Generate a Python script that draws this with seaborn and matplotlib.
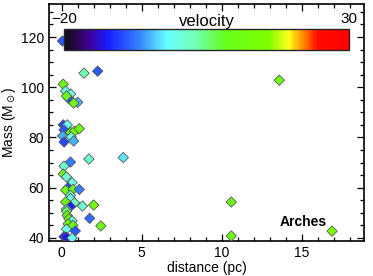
import matplotlib
matplotlib.use("Agg")
import matplotlib.pyplot as plt
import seaborn as sns
import numpy as np
import pandas as pd
from matplotlib.colors import LinearSegmentedColormap, Normalize
from matplotlib.cm import ScalarMappable
from matplotlib.ticker import MultipleLocator

# distance (pc), mass (Msun), velocity
distance = [0.05, 1.4, 2.25, 13.6, 0.1, 0.25, 0.56, 0.44, 1.0, 0.75, 0.3,
            0.1, 0.35, 0.15, 0.56, 0.8, 1.1, 0.06, 0.6, 0.15, 0.75,
            1.7, 3.85, 0.55, 0.15, 0.1, 0.3, 0.65, 0.4, 0.25, 0.7, 1.1,
            0.55, 0.55, 0.8, 0.25, 1.3, 2.0, 0.55, 0.3, 0.3, 0.35, 0.45,
            1.75, 0.65, 0.4, 2.45, 0.7, 0.3, 0.85, 0.15, 0.3, 0.65,
            10.6, 10.6, 16.9]
mass = [118.4, 105.6, 106.4, 102.8, 101.2, 98.5, 97.3, 95.5, 94.0, 93.7, 96.5,
        85.0, 85.0, 83.0, 82.0, 82.5, 83.5, 80.6, 80.2, 78.2, 78.6,
        71.4, 72.0, 70.2, 68.6, 65.4, 64.3, 62.0, 60.0, 59.0, 59.3, 59.3,
        57.0, 55.7, 54.0, 54.3, 52.7, 53.1, 52.5, 51.4, 50.6, 48.9, 47.6,
        47.8, 46.8, 45.6, 44.8, 45.0, 43.5, 42.8, 40.5, 40.3, 40.0,
        54.3, 40.8, 42.7]
velocity = [-9, 3, -9, 11, 10, 0, -1, -10, -5, 11, 9,
            -10, -1, -9, 10, 11, 10, -5, 1, -10, -5,
            1, -3, -7, 1, 10, 1, 0, -10, 10, 10, -7,
            2, 0, 2, 10, 1, 11, -12, 0, 6, 10, 10,
            -8, 0, 10, 11, 10, -1, -9, -11, -13, -1,
            10, 11, 15]

vmin, vmax = -20, 30

df = pd.DataFrame({"distance": distance, "mass": mass, "velocity": velocity})

cmap = LinearSegmentedColormap.from_list("idl_rainbow", [
    (0.00, (0.05, 0.05, 0.05)),
    (0.08, (0.25, 0.0, 0.55)),
    (0.15, (0.1, 0.1, 1.0)),
    (0.26, (0.2, 0.5, 1.0)),
    (0.36, (0.4, 1.0, 1.0)),
    (0.45, (0.45, 1.0, 0.75)),
    (0.57, (0.4, 1.0, 0.1)),
    (0.72, (0.5, 1.0, 0.0)),
    (0.79, (1.0, 1.0, 0.1)),
    (0.84, (1.0, 0.55, 0.0)),
    (0.89, (1.0, 0.05, 0.0)),
    (1.00, (1.0, 0.0, 0.0)),
])
norm = Normalize(vmin, vmax)

sns.set_style("ticks")
plt.rcParams["font.family"] = ["Liberation Sans", "DejaVu Sans"]
plt.rcParams["text.color"] = "black"
plt.rcParams["axes.labelcolor"] = "black"
plt.rcParams["xtick.color"] = "black"
plt.rcParams["ytick.color"] = "black"

fig = plt.figure(figsize=(3.73, 2.76), dpi=100)
ax = fig.add_axes([0.131, 0.127, 0.845, 0.859])

sns.scatterplot(data=df, x="distance", y="mass", hue="velocity", palette=cmap,
                hue_norm=norm, marker="D", s=28, edgecolor="#555555",
                linewidth=0.6, legend=False, ax=ax, zorder=3)

ax.set_xlim(-0.8, 18.9)
ax.set_ylim(38.8, 133.2)
ax.set_xticks([0, 5, 10, 15])
ax.set_yticks([40, 60, 80, 100, 120])
ax.xaxis.set_minor_locator(MultipleLocator(1))
ax.yaxis.set_minor_locator(MultipleLocator(5))
ax.tick_params(which="both", direction="in", top=True, right=True,
               color="black", labelcolor="black", width=0.9, labelsize=10)
ax.tick_params(which="major", length=5)
ax.tick_params(which="minor", length=3)
for sp in ax.spines.values():
    sp.set_linewidth(1.2)
    sp.set_color("black")

ax.set_xlabel("distance (pc)", fontsize=10, labelpad=1)
ax.set_ylabel(r"Mass (M$_\odot$)", fontsize=10, labelpad=2)

ax.text(16.6, 46.5, "Arches", fontsize=10, fontweight="bold", ha="right", va="center")

cax = ax.inset_axes([0.048, 0.806, 0.904, 0.089])
cb = fig.colorbar(ScalarMappable(norm=norm, cmap=cmap), cax=cax, orientation="horizontal")
cb.set_ticks([vmin, vmax])
cb.set_ticklabels(["\u221220", "30"])
cax.xaxis.set_ticks_position("top")
cax.tick_params(length=0, labelsize=11, pad=2, labelcolor="black")
cb.outline.set_linewidth(1.0)
cax.text(0.5, 1.0, "velocity", transform=cax.transAxes, fontsize=12,
         ha="center", va="bottom")

fig.savefig("out.png", dpi=100)
